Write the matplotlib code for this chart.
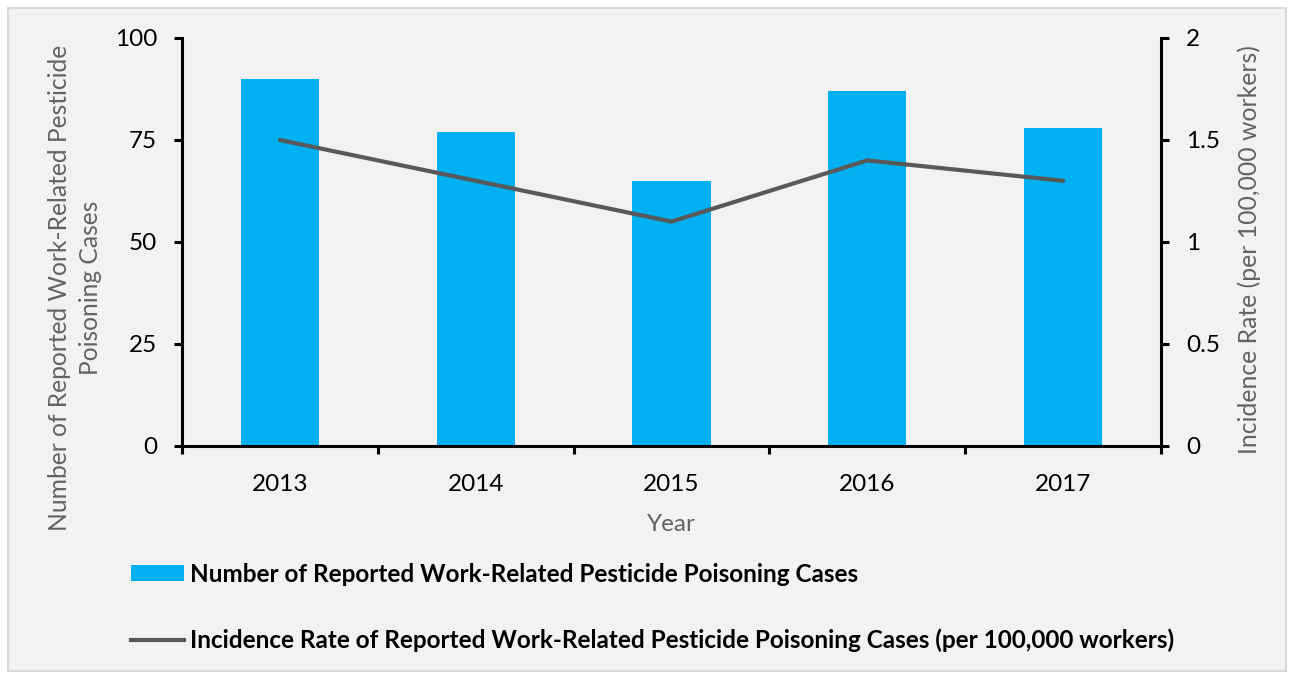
import matplotlib
matplotlib.use("Agg")
import matplotlib.pyplot as plt
from matplotlib.patches import Rectangle, Patch
from matplotlib.lines import Line2D
import numpy as np

plt.rcParams['font.family'] = ['Lato', 'DejaVu Sans']

years = ["2013", "2014", "2015", "2016", "2017"]
cases = [90, 77, 65, 87, 78]
rate = [1.5, 1.3, 1.1, 1.4, 1.3]
left_ticks = [0, 25, 50, 75, 100]
right_ticks = [0, 0.5, 1, 1.5, 2]
right_tick_labels = ["0", "0.5", "1", "1.5", "2"]

bar_label = "Number of Reported Work-Related Pesticide Poisoning Cases"
line_label = "Incidence Rate of Reported Work-Related Pesticide Poisoning Cases (per 100,000 workers)"

W, H = 1294, 679
fig = plt.figure(figsize=(W/100, H/100), dpi=100)
fig.patch.set_facecolor('white')
fig.patches.append(Rectangle((8/W, 8/H), (1286-8)/W, (671-8)/H, transform=fig.transFigure,
                             facecolor='#F2F2F2', edgecolor='#D9D9D9', linewidth=1.5, zorder=-10))

ax = fig.add_axes([182/W, 1-446/H, (1161-182)/W, (446-38)/H])
ax.set_facecolor('none')
x = np.arange(len(years))
bar_color = '#00B0F0'
line_color = '#595959'
lab_color = '#636363'
ax.bar(x, cases, width=0.4, color=bar_color, zorder=2)
ax.set_xlim(-0.5, len(years)-0.5)
ax.set_ylim(0, 100)
ax.set_yticks(left_ticks)
ax.set_xticks(np.arange(-0.5, len(years), 1.0))
ax.set_xticklabels([])
ax.set_xticks(x, minor=True)
ax.set_xticklabels(years, minor=True)
ax.tick_params(axis='x', which='minor', length=0, pad=20, labelsize=17.5)
ax.tick_params(axis='x', which='major', length=6, width=2.2, direction='out')
ax.tick_params(axis='y', length=6, width=2.2, direction='out', labelsize=17.5, pad=12)
for s in ['left', 'bottom']:
    ax.spines[s].set_linewidth(2.2)
for s in ['top', 'right']:
    ax.spines[s].set_visible(False)
ax.set_xlabel("Year", fontsize=17.5, color=lab_color, labelpad=14)

fig.text(75/W, 1-288/H, "Number of Reported Work-Related Pesticide\nPoisoning Cases",
         rotation=90, ha='center', va='center', fontsize=17.7, color=lab_color,
         linespacing=1.4, multialignment='center')

ax2 = ax.twinx()
ax2.plot(x, rate, color=line_color, linewidth=3, zorder=3, solid_capstyle='round')
ax2.set_ylim(0, 2)
ax2.set_yticks(right_ticks)
ax2.set_yticklabels(right_tick_labels)
ax2.tick_params(axis='y', length=6, width=2.2, direction='out', labelsize=17.5, pad=12)
for s in ['left', 'bottom', 'top']:
    ax2.spines[s].set_visible(False)
ax2.spines['right'].set_linewidth(2.2)
fig.text(1249/W, 1-250/H, "Incidence Rate (per 100,000 workers)", rotation=90,
         ha='center', va='center', fontsize=17.8, color=lab_color)

handles = [Patch(facecolor=bar_color, edgecolor='none'),
           Line2D([0], [0], color=line_color, linewidth=3)]
leg = fig.legend(handles, [bar_label, line_label], loc='upper left',
                 bbox_to_anchor=(121/W, 1-553/H), frameon=False,
                 prop={'weight': 'bold', 'size': 17.5}, handlelength=2.2, handleheight=0.62,
                 handletextpad=0.25, labelspacing=1.75, borderaxespad=0)

fig.savefig("out.png", dpi=100, facecolor='white')
